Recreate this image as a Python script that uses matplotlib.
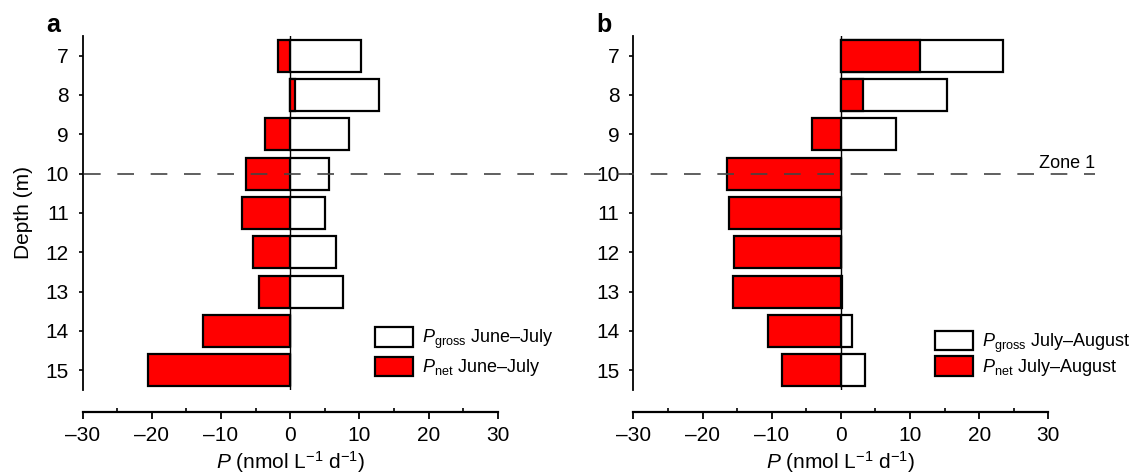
import numpy as np
import matplotlib
matplotlib.use('Agg')
import matplotlib.pyplot as plt
from matplotlib.lines import Line2D
from matplotlib.patches import Patch
import matplotlib.transforms as mtransforms

plt.rcParams['font.family'] = ['Liberation Sans', 'DejaVu Sans']
plt.rcParams['mathtext.fontset'] = 'custom'
plt.rcParams['mathtext.rm'] = 'Liberation Sans'
plt.rcParams['mathtext.it'] = 'Liberation Sans:italic'
plt.rcParams['mathtext.bf'] = 'Liberation Sans:bold'

depth = [7, 8, 9, 10, 11, 12, 13, 14, 15]

# panel a: June-July
gross_a = [10.2, 12.8, 8.5, 5.6, 5.1, 6.6, 7.6, 0.0, 0.0]
net_a = [-1.8, 0.7, -3.7, -6.4, -7.0, -5.4, -4.5, -12.6, -20.6]

# panel b: July-August
gross_b = [23.5, 15.3, 7.9, 0.0, 0.0, 0.0, 0.2, 1.6, 3.5]
net_b = [11.4, 3.2, -4.2, -16.5, -16.1, -15.5, -15.6, -10.5, -8.5]

xticks = [-30, -20, -10, 0, 10, 20, 30]
red = '#ff0000'

fig = plt.figure(figsize=(11.34, 4.76), dpi=100)
ax1 = fig.add_axes([0.0729, 0.1807, 0.366, 0.7437])
ax2 = fig.add_axes([0.5585, 0.1807, 0.366, 0.7437])


def panel(ax, gross, net, period, leg_x, leg_y, spacing):
    ax.axvline(0, color='black', lw=1.0, zorder=1)
    ax.barh(depth, gross, height=0.82, color='white', edgecolor='black',
            linewidth=1.6, zorder=2)
    ax.barh(depth, net, height=0.82, color=red, edgecolor='black',
            linewidth=1.6, zorder=3)
    ax.set_xlim(-30, 30)
    ax.set_ylim(15.5, 6.5)
    ax.set_yticks(depth)
    ax.set_xticks(xticks)
    ax.set_xticks([-25, -15, -5, 5, 15, 25], minor=True)
    ax.set_xticklabels([str(t).replace('-', '\u2013') for t in xticks])
    for s in ['top', 'right']:
        ax.spines[s].set_visible(False)
    ax.spines['bottom'].set_position(('outward', 16))
    ax.spines['left'].set_linewidth(1.3)
    ax.spines['bottom'].set_linewidth(1.6)
    ax.tick_params(axis='y', which='major', direction='out', length=3,
                   width=1.2, pad=7, labelsize=15)
    ax.tick_params(axis='x', which='major', direction='out', length=5,
                   width=1.3, pad=5, labelsize=15)
    ax.tick_params(axis='x', which='minor', direction='in', length=3,
                   width=1.2)
    ax.set_xlabel('$P$ (nmol L$^{-1}$ d$^{-1}$)', fontsize=15, labelpad=3)
    handles = [Patch(facecolor='white', edgecolor='black', linewidth=1.6),
               Patch(facecolor=red, edgecolor='black', linewidth=1.6)]
    labels = ['$P_{\\mathrm{gross}}$ ' + period,
              '$P_{\\mathrm{net}}$ ' + period]
    ax.legend(handles, labels, loc='center left',
              bbox_to_anchor=(leg_x, leg_y), frameon=False, fontsize=13,
              handlelength=2.1, handleheight=1.25, handletextpad=0.5,
              labelspacing=spacing, borderpad=0, borderaxespad=0)


panel(ax1, gross_a, net_a, 'June\u2013July', 0.705, 0.105, 0.3)
panel(ax2, gross_b, net_b, 'July\u2013August', 0.727, 0.10, 0.1)
ax1.set_ylabel('Depth (m)', fontsize=15, labelpad=9)

# dashed zone boundary across both panels
trans = mtransforms.blended_transform_factory(fig.transFigure, ax1.transData)
fig.add_artist(Line2D([84 / 1134, 1095 / 1134], [10, 10], transform=trans,
                      color='#444444', lw=1.2, ls=(0, (10, 10)), zorder=5))
fig.text(1095 / 1134, 1 - 168 / 476, 'Zone 1', ha='right', va='baseline',
         fontsize=13)

fig.text(46 / 1134, 1 - 32 / 476, 'a', fontsize=18, fontweight='bold',
         va='baseline')
fig.text(596 / 1134, 1 - 32 / 476, 'b', fontsize=18, fontweight='bold',
         va='baseline')

fig.savefig('out.png', dpi=100)
